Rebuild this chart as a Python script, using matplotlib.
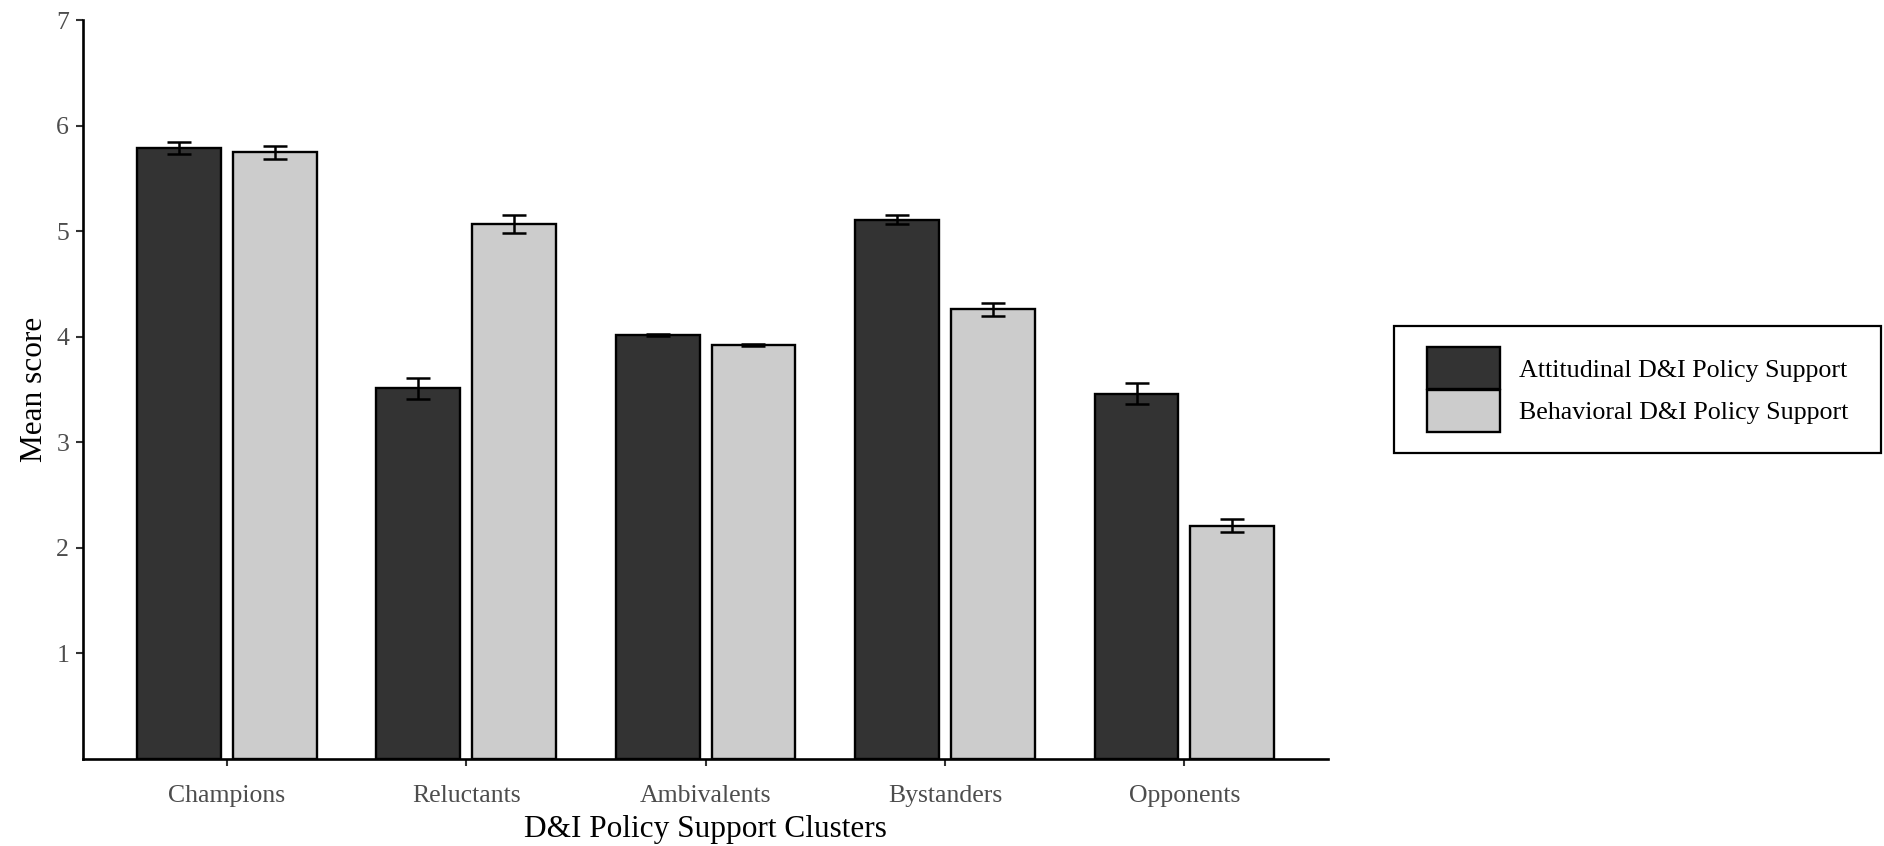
import matplotlib

matplotlib.use("Agg")
import matplotlib.pyplot as plt
from matplotlib.patches import Rectangle
import numpy as np

clusters = ["Champions", "Reluctants", "Ambivalents", "Bystanders", "Opponents"]
attitudinal = [5.79, 3.51, 4.02, 5.11, 3.46]
attitudinal_se = [0.055, 0.10, 0.01, 0.045, 0.10]
behavioral = [5.75, 5.07, 3.92, 4.26, 2.21]
behavioral_se = [0.06, 0.085, 0.01, 0.065, 0.065]
series_labels = ["Attitudinal D&I Policy Support", "Behavioral D&I Policy Support"]
y_ticks = [1, 2, 3, 4, 5, 6, 7]

plt.rcParams["font.family"] = ["Liberation Serif", "DejaVu Serif"]

fig = plt.figure(figsize=(18.84, 8.46), dpi=100)
ax = fig.add_axes([0.0441, 0.1034, 0.6608, 0.8724])

x = np.arange(1, len(clusters) + 1)
dodge = 0.2
width = 0.35
err_style = dict(ecolor="black", elinewidth=1.8, capsize=8.5, capthick=1.8)

ax.bar(x - dodge, attitudinal, width, color="#333333", edgecolor="black",
       linewidth=1.7, label=series_labels[0], zorder=2)
ax.bar(x + dodge, behavioral, width, color="#cccccc", edgecolor="black",
       linewidth=1.7, label=series_labels[1], zorder=2)
ax.errorbar(x - dodge, attitudinal, yerr=attitudinal_se, fmt="none", zorder=3, **err_style)
ax.errorbar(x + dodge, behavioral, yerr=behavioral_se, fmt="none", zorder=3, **err_style)

ax.set_xlim(0.4, 5.6)
ax.set_ylim(0, 7)
ax.set_xticks(x)
ax.set_xticklabels(clusters)
ax.set_yticks(y_ticks)

for side in ("top", "right"):
    ax.spines[side].set_visible(False)
for side in ("left", "bottom"):
    ax.spines[side].set_linewidth(1.9)
    ax.spines[side].set_color("black")

ax.tick_params(axis="both", length=5, width=1.5, color="#333333",
               labelsize=18.5, labelcolor="#4d4d4d")
ax.tick_params(axis="x", pad=14)
ax.tick_params(axis="y", pad=5)

ax.set_xlabel("D&I Policy Support Clusters", fontsize=22.5, labelpad=6)
ax.set_ylabel("Mean score", fontsize=22.5, labelpad=5)

# legend box drawn separately so the inner padding can differ per side
fig.patches.append(Rectangle((0.7399, 0.4645), 0.2585, 0.1501, transform=fig.transFigure,
                             facecolor="white", edgecolor="black", linewidth=1.6))
fig.legend(loc="center left", bbox_to_anchor=(0.7574, 0.5396),
           fontsize=18.7, frameon=False,
           handlelength=2.8, handleheight=2.1, handletextpad=0.75,
           labelspacing=0.02, borderpad=0, borderaxespad=0)

fig.savefig("out.png", dpi=100)
plt.close(fig)
